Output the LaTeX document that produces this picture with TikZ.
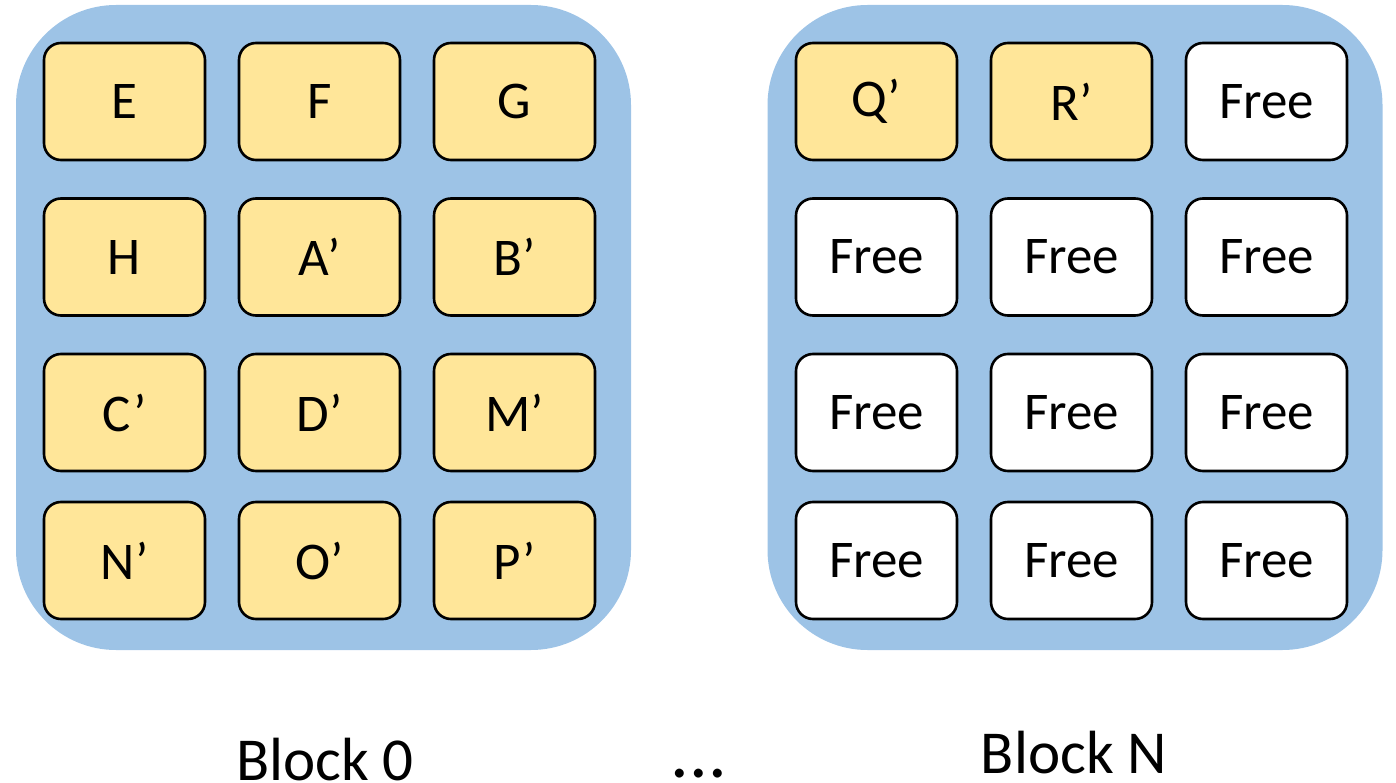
\documentclass[tikz,border=0pt]{standalone}
\usepackage{fontspec}
\setmainfont{Carlito}
\begin{document}
\begin{tikzpicture}[x=1pt,y=-1pt,
  blockbg/.style={fill=blockblue, draw=none, rounded corners=100pt, minimum width=615pt, minimum height=645pt, inner sep=0pt},
  cell/.style={draw=black, line width=2.6pt, rounded corners=17pt, minimum width=161pt, minimum height=117pt, inner sep=0pt, font=\fontsize{53}{58}\selectfont},
  used/.style={cell, fill=cellyellow},
  freecell/.style={cell, fill=white},
  caption/.style={font=\fontsize{61}{66}\selectfont, anchor=base, inner sep=0pt}]
\definecolor{blockblue}{HTML}{9DC3E6}
\definecolor{cellyellow}{HTML}{FFE699}
\useasboundingbox (0,0) rectangle (1396,783);

% memory blocks
\node[blockbg] (blk0) at (323.5,327.5) {};
\node[blockbg] (blkN) at (1075,327.5) {};

% block 0: all cells in use
\node[used] (e)  at (124.5,101.5) {E};
\node[used] (f)  at (319.5,101.5) {F};
\node[used] (g)  at (514.5,101.5) {G};
\node[used] (h)  at (124.5,257)   {H};
\node[used] (a1) at (319.5,257)   {A’};
\node[used] (b1) at (514.5,257)   {B’};
\node[used] (c1) at (124.5,412.5) {C’};
\node[used] (d1) at (319.5,412.5) {D’};
\node[used] (m1) at (514.5,412.5) {M’};
\node[used] (n1) at (124.5,560.5) {N’};
\node[used] (o1) at (319.5,560.5) {O’};
\node[used] (p1) at (514.5,560.5) {P’};

% block N: two cells in use, the rest free
\node[used]     (q1) at (876.5,101.5)  {Q’};
\node[used]     (r1) at (1071.5,101.5) {R’};
\node[freecell] (f3) at (1266.5,101.5) {Free};
\node[freecell] (f4) at (876.5,257)    {Free};
\node[freecell] (f5) at (1071.5,257)   {Free};
\node[freecell] (f6) at (1266.5,257)   {Free};
\node[freecell] (f7) at (876.5,412.5)  {Free};
\node[freecell] (f8) at (1071.5,412.5) {Free};
\node[freecell] (f9) at (1266.5,412.5) {Free};
\node[freecell] (f10) at (876.5,560.5)  {Free};
\node[freecell] (f11) at (1071.5,560.5) {Free};
\node[freecell] (f12) at (1266.5,560.5) {Free};

% captions
\node[caption] (lbl0) at (325,780) {Block 0};
\node[caption] (lblN) at (1074,773) {Block N};
\node[caption, font=\fontsize{74}{80}\selectfont] (dots) at (699,777) {...};
\end{tikzpicture}
\end{document}
